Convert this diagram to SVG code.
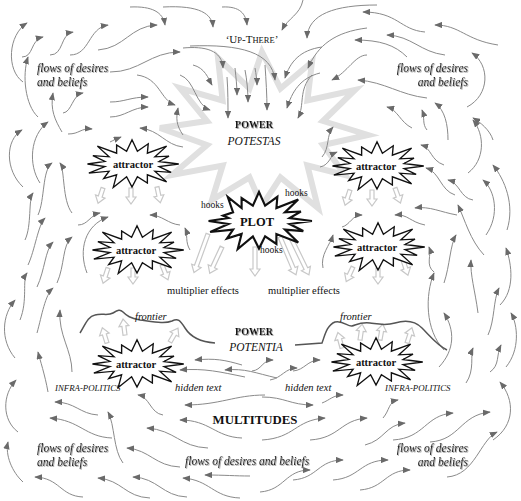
<svg xmlns="http://www.w3.org/2000/svg" width="521" height="501" viewBox="0 0 521 501">
<style>
.f{fill:none;stroke:#8a8a8a;stroke-width:1;marker-end:url(#ah)}
.burst{fill:#fff;stroke:#111;stroke-width:1.3;stroke-linejoin:miter}
.ha{fill:#fff;stroke:#c8c8c8;stroke-width:1.2}
.t{font-family:"Liberation Serif","Times New Roman",serif;fill:#111}
.it{font-style:italic}
.b{font-weight:bold}
.flow{font-family:"Liberation Serif","Times New Roman",serif;font-style:italic;font-size:11.5px;fill:#222;filter:url(#sh)}
.front{fill:none;stroke:#555;stroke-width:1.5}
</style>
<defs>
<marker id="ah" viewBox="0 0 10 8" refX="9" refY="4" markerWidth="8" markerHeight="6.4" markerUnits="userSpaceOnUse" orient="auto"><path d="M0,0 L10,4 L0,8 Z" fill="#6a6a6a"/></marker>
<filter id="sh" x="-10%" y="-40%" width="120%" height="180%"><feDropShadow dx="0.8" dy="0.8" stdDeviation="0.7" flood-color="#888" flood-opacity="0.9"/></filter>
<path id="burst" d="M0,-24.2 L5.1,-12.8 L15.3,-20.2 L14.5,-10.8 L32.7,-17.9 L21.6,-7.2 L34.9,-7.9 L25.5,-2.5 L44.1,0 L25.5,2.5 L36.9,8.4 L21.6,7.2 L32.7,17.9 L14.5,10.8 L14.5,19.1 L5.1,12.8 L0,23 L-5.1,12.8 L-17.7,23.4 L-14.5,10.8 L-26.7,14.6 L-21.6,7.2 L-40.7,9.2 L-25.5,2.5 L-42,0 L-25.5,-2.5 L-36.9,-8.4 L-21.6,-7.2 L-32.7,-17.9 L-14.5,-10.8 L-14.5,-19.1 L-5.1,-12.8 Z"/>
<path id="hs" d="M-2,0 L2,0 L2,9 L5,9 L0,16 L-5,9 L-2,9 Z"/>
<path id="hm" d="M-2,0 L2,0 L2,22 L5,22 L0,29 L-5,22 L-2,22 Z"/>
<path id="hl" d="M-2,0 L2,0 L2,34 L5,34 L0,41 L-5,34 L-2,34 Z"/>
</defs>
<rect width="521" height="501" fill="#fff"/>

<g id="power-potestas">
<polygon points="262,52 280.5,88.6 312,62 307.4,100.5 355,90 323,121 368,135 323,145 345,175 307.4,165.5 318,208 280.5,177.4 262,206 249.5,177.4 212,200 222.6,165.5 172,175 207,145 160,128 207,121 180,88 222.6,100.5 218,58 249.5,88.6" fill="#fff" stroke="#e0e0e0" stroke-width="6" stroke-linejoin="miter"/>
<text class="t b" x="254" y="128" font-size="10" text-anchor="middle" filter="url(#sh)">POWER</text>
<text class="t it" x="254" y="145" font-size="11.5" text-anchor="middle">POTESTAS</text>
</g>

<g id="connectors">
<path class="f" d="M130,7 C152,6 163,12 165,25"/>
<path class="f" d="M163,7 C200,5 212,14 213,27"/>
<path class="f" d="M222,7 C240,6 246,14 247,25"/>
<path class="f" d="M303,0 C300,15 288,18 282,30"/>
<path class="f" d="M377,5 C335,5 308,14 307,38"/>
<path class="f" d="M425,32 C400,30 398,12 363,12"/>
<path class="f" d="M445,55 C420,52 412,36 387,35"/>
<path class="f" d="M498,45 C465,40 460,25 435,25"/>
<path class="f" d="M407,57 C395,45 380,40 355,40"/>
<path class="f" d="M367,28 C335,32 318,45 308,68"/>
<path class="f" d="M322,47 C300,50 290,62 285,78"/>
<path class="f" d="M367,55 C355,55 348,72 332,80"/>
<path class="f" d="M320,73 C300,78 292,92 287,108"/>
<path class="f" d="M312,75 C298,90 305,105 298,118"/>
<path class="f" d="M427,98 C400,95 385,82 358,80"/>
<path class="f" d="M412,128 C400,122 398,110 387,107"/>
<path class="f" d="M427,130 C422,124 425,118 422,110"/>
<path class="f" d="M448,140 C448,125 445,110 435,103"/>
<path class="f" d="M467,107 C490,95 490,65 472,53"/>
<path class="f" d="M493,140 C490,130 480,122 473,118"/>
<path class="f" d="M23,82 C6,70 8,35 27,23"/>
<path class="f" d="M22,57 C34,57 30,40 43,37"/>
<path class="f" d="M50,55 C64,55 60,34 73,32"/>
<path class="f" d="M70,55 C90,55 88,28 108,25"/>
<path class="f" d="M98,50 C125,48 130,26 157,25"/>
<path class="f" d="M110,72 C140,72 150,52 180,52"/>
<path class="f" d="M183,48 C205,46 222,50 223,68"/>
<path class="f" d="M190,46 C240,44 272,52 275,80"/>
<path class="f" d="M193,65 C205,68 208,78 212,85"/>
<path class="f" d="M180,75 C195,80 195,105 210,110"/>
<path class="f" d="M137,75 C160,78 160,100 175,105"/>
<path class="f" d="M110,102 C125,102 130,97 148,97"/>
<path class="f" d="M110,117 C125,117 132,107 148,107"/>
<path class="f" d="M63,113 C72,112 72,95 83,93"/>
<path class="f" d="M38,117 C25,105 22,75 28,57"/>
<path class="f" d="M62,132 C55,120 50,110 53,93"/>
<path class="f" d="M227,77 C228,90 228,105 228,118"/>
<path class="f" d="M235,68 C236,78 237,86 237,95"/>
<path class="f" d="M245,70 C247,80 248,92 248,102"/>
<path class="f" d="M255,68 C256,74 257,80 257,85"/>
<path class="f" d="M265,65 C266,80 267,95 267,110"/>
<path class="f" d="M183,135 C176,125 176,118 178,108"/>
<path class="f" d="M183,147 C165,145 160,130 140,128"/>
<path class="f" d="M322,157 C330,148 326,135 333,127"/>
<path class="f" d="M320,167 C330,165 330,155 337,152"/>
<path class="f" d="M23,187 C5,170 5,140 22,130"/>
<path class="f" d="M40,183 C28,165 30,135 48,122"/>
<path class="f" d="M38,215 C45,200 42,170 52,163"/>
<path class="f" d="M72,213 C62,200 65,170 60,163"/>
<path class="f" d="M25,240 C32,225 28,200 33,193"/>
<path class="f" d="M28,265 C35,250 38,225 45,218"/>
<path class="f" d="M37,287 C45,270 45,250 53,242"/>
<path class="f" d="M57,283 C65,265 62,245 72,237"/>
<path class="f" d="M78,225 C88,225 90,215 100,213"/>
<path class="f" d="M87,273 C78,250 85,225 108,217"/>
<path class="f" d="M68,134 C80,134 80,128 92,129"/>
<path class="f" d="M110,142 C114,140 116,139 121,137"/>
<path class="f" d="M15,358 C0,340 2,315 15,300"/>
<path class="f" d="M20,320 C28,300 22,280 27,273"/>
<path class="f" d="M37,333 C42,315 45,295 53,288"/>
<path class="f" d="M72,372 C72,350 58,335 60,310"/>
<path class="f" d="M48,392 C45,375 40,360 38,352"/>
<path class="f" d="M18,432 C2,420 2,395 16,380"/>
<path class="f" d="M23,482 C12,472 5,455 8,442"/>
<path class="f" d="M180,225 C168,224 162,215 150,215"/>
<path class="f" d="M190,250 C185,242 188,235 185,228"/>
<path class="f" d="M342,227 C350,225 352,215 362,215"/>
<path class="f" d="M425,225 C410,222 408,214 395,215"/>
<path class="f" d="M457,215 C440,212 430,206 415,208"/>
<path class="f" d="M444,165 C430,160 432,148 421,145"/>
<path class="f" d="M455,195 C440,190 440,172 426,168"/>
<path class="f" d="M473,200 C460,198 460,183 448,180"/>
<path class="f" d="M484,255 C470,240 465,220 458,205"/>
<path class="f" d="M468,173 C485,160 485,135 473,120"/>
<path class="f" d="M486,235 C500,215 495,190 483,180"/>
<path class="f" d="M507,230 C515,205 505,180 493,165"/>
<path class="f" d="M323,268 C320,255 330,245 333,235"/>
<path class="f" d="M434,272 C425,265 432,255 429,247"/>
<path class="f" d="M444,350 C425,330 425,295 434,273"/>
<path class="f" d="M444,283 C450,265 450,245 456,235"/>
<path class="f" d="M478,313 C475,290 470,275 471,260"/>
<path class="f" d="M500,305 C515,290 512,265 506,248"/>
<path class="f" d="M488,335 C495,320 493,300 499,288"/>
<path class="f" d="M439,367 C455,350 455,330 444,313"/>
<path class="f" d="M466,383 C475,370 470,355 473,348"/>
<path class="f" d="M490,372 C500,365 496,355 501,345"/>
<path class="f" d="M506,367 C520,350 518,325 511,313"/>
<path class="f" d="M493,440 C515,425 515,400 500,382"/>
<path class="f" d="M447,477 C475,475 480,440 497,432"/>
<path class="f" d="M430,442 C460,440 460,415 490,412"/>
<path class="f" d="M393,440 C425,438 425,415 453,413"/>
<path class="f" d="M365,445 C385,440 385,425 405,423"/>
<path class="f" d="M310,440 C340,438 340,420 367,418"/>
<path class="f" d="M262,440 C295,438 295,420 325,418"/>
<path class="f" d="M383,418 C390,410 388,402 398,400"/>
<path class="f" d="M322,403 C330,400 333,395 343,395"/>
<path class="f" d="M262,397 C285,397 290,405 313,405"/>
<path class="f" d="M293,480 C318,478 318,460 343,460"/>
<path class="f" d="M333,480 C360,478 360,460 388,460"/>
<path class="f" d="M360,490 C385,488 385,470 410,470"/>
<path class="f" d="M260,492 C285,490 285,470 310,470"/>
<path class="f" d="M293,371 C305,370 307,360 320,360"/>
<path class="f" d="M270,380 C282,378 285,368 297,368"/>
<path class="f" d="M252,371 C262,370 262,360 273,360"/>
<path class="f" d="M242,365 C225,360 215,358 195,360"/>
<path class="f" d="M245,377 C220,372 205,368 180,370"/>
<path class="f" d="M277,378 C255,373 245,368 225,370"/>
<path class="f" d="M265,395 C235,395 220,405 185,405"/>
<path class="f" d="M98,415 C80,414 75,402 55,402"/>
<path class="f" d="M112,438 C85,437 80,420 50,418"/>
<path class="f" d="M163,415 C150,413 150,397 138,395"/>
<path class="f" d="M123,463 C113,450 115,425 108,412"/>
<path class="f" d="M242,438 C215,437 210,420 180,420"/>
<path class="f" d="M208,448 C180,447 175,430 147,428"/>
<path class="f" d="M180,467 C155,466 150,450 127,448"/>
<path class="f" d="M83,497 C60,496 60,478 35,477"/>
<path class="f" d="M150,498 C125,497 122,480 98,478"/>
<path class="f" d="M187,497 C162,496 158,478 133,477"/>
<path class="f" d="M240,498 C213,497 210,480 183,478"/>
<path class="f" d="M250,476 C235,476 225,475 205,475"/>
</g>

<g id="effects">
<use href="#hs" class="ha" transform="translate(103,188) rotate(18)"/>
<use href="#hs" class="ha" transform="translate(131,188) rotate(0)"/>
<use href="#hs" class="ha" transform="translate(157,187) rotate(-12)"/>
<use href="#hs" class="ha" transform="translate(108,268) rotate(18)"/>
<use href="#hs" class="ha" transform="translate(133,268) rotate(0)"/>
<use href="#hs" class="ha" transform="translate(162,265) rotate(-22)"/>
<use href="#hs" class="ha" transform="translate(350,190) rotate(18)"/>
<use href="#hs" class="ha" transform="translate(372,190) rotate(0)"/>
<use href="#hs" class="ha" transform="translate(395,188) rotate(-20)"/>
<use href="#hs" class="ha" transform="translate(353,267) rotate(25)"/>
<use href="#hs" class="ha" transform="translate(378,268) rotate(0)"/>
<use href="#hs" class="ha" transform="translate(403,260) rotate(-18)"/>
<use href="#hl" class="ha" transform="translate(208,234) rotate(20)"/>
<use href="#hm" class="ha" transform="translate(222,247) rotate(25)"/>
<use href="#hm" class="ha" transform="translate(255,247) rotate(0)"/>
<use href="#hl" class="ha" transform="translate(280,237) rotate(-23)"/>
<use href="#hl" class="ha" transform="translate(291,238) rotate(-26)"/>
<use href="#hs" class="ha" transform="translate(107,343) rotate(163)"/>
<use href="#hs" class="ha" transform="translate(125,335) rotate(173)"/>
<use href="#hs" class="ha" transform="translate(170,342) rotate(-150)"/>
<use href="#hs" class="ha" transform="translate(342,348) rotate(165)"/>
<use href="#hs" class="ha" transform="translate(360,340) rotate(-172)"/>
<use href="#hs" class="ha" transform="translate(380,340) rotate(-170)"/>
<use href="#hs" class="ha" transform="translate(407,343) rotate(-162)"/>
</g>

<g id="frontier-left">
<path class="front" d="M80,333 C85,325 88,316 95,315 C102,313 108,316 113,313 C118,310 120,309 123,312 C127,316 130,318 140,320 C155,322 165,324 172,321 C178,318 180,320 185,328 C190,336 200,342 215,343"/>
<text class="t it" x="135" y="320" font-size="10.5">frontier</text>
</g>
<g id="frontier-right">
<path class="front" d="M295,345 L322,343 C325,335 327,325 335,322 C343,320 348,327 352,326 C356,325 360,322 370,323 C378,324 385,326 395,323 C405,320 415,321 422,328 C430,336 437,345 447,350"/>
<text class="t it" x="340" y="320" font-size="10.5">frontier</text>
</g>

<g id="attractor-1"><use href="#burst" class="burst" transform="translate(132,164) scale(1.06,1)"/><text class="t b" x="133" y="168" font-size="10.5" text-anchor="middle">attractor</text></g>
<g id="attractor-2"><use href="#burst" class="burst" transform="translate(137,250) scale(1.06,1)"/><text class="t b" x="136" y="254" font-size="10.5" text-anchor="middle">attractor</text></g>
<g id="attractor-3"><use href="#burst" class="burst" transform="translate(377,166) scale(1.06,1)"/><text class="t b" x="376" y="170" font-size="10.5" text-anchor="middle">attractor</text></g>
<g id="attractor-4"><use href="#burst" class="burst" transform="translate(378,247) scale(1.06,1)"/><text class="t b" x="377" y="251" font-size="10.5" text-anchor="middle">attractor</text></g>
<g id="attractor-5"><use href="#burst" class="burst" transform="translate(137,364) scale(1.06,1)"/><text class="t b" x="136" y="368" font-size="10.5" text-anchor="middle">attractor</text></g>
<g id="attractor-6"><use href="#burst" class="burst" transform="translate(376,362) scale(1.06,1)"/><text class="t b" x="376" y="366" font-size="10.5" text-anchor="middle">attractor</text></g>

<g id="plot">
<path class="burst" transform="translate(259,221) scale(1.2)" style="stroke-width:1.8" d="M0,-24.2 L5.1,-12.8 L15.3,-20.2 L14.5,-10.8 L32.7,-17.9 L21.6,-7.2 L34.9,-7.9 L25.5,-2.5 L44.1,0 L25.5,2.5 L36.9,8.4 L21.6,7.2 L32.7,17.9 L14.5,10.8 L14.5,19.1 L5.1,12.8 L0,23 L-5.1,12.8 L-17.7,23.4 L-14.5,10.8 L-26.7,14.6 L-21.6,7.2 L-40.7,9.2 L-25.5,2.5 L-42,0 L-25.5,-2.5 L-30,-4.5 L-21.6,-7.2 L-26,-20 L-14.5,-10.8 L-14.5,-19.1 L-5.1,-12.8 Z"/>
<text class="t b" x="257" y="226" font-size="12.5" text-anchor="middle">PLOT</text>
<text class="t" x="201" y="208" font-size="9.5">hooks</text>
<text class="t" x="285" y="196" font-size="9.5">hooks</text>
<text class="t" x="260" y="253" font-size="9.5">hooks</text>
</g>

<g id="labels">
<text class="t" x="252" y="43" font-size="11" text-anchor="middle">‘U<tspan font-size="8.5">P</tspan>-T<tspan font-size="8.5">HERE</tspan>’</text>
<text class="t" x="203" y="294" font-size="10.5" text-anchor="middle">multiplier effects</text>
<text class="t" x="304" y="294" font-size="10.5" text-anchor="middle">multiplier effects</text>
<text class="t b" x="254" y="335" font-size="10" text-anchor="middle" filter="url(#sh)">POWER</text>
<text class="t it" x="256" y="351" font-size="11.5" text-anchor="middle">POTENTIA</text>
<text class="t it" x="55" y="391" font-size="8.8">INFRA-POLITICS</text>
<text class="t it" x="385" y="391" font-size="8.8">INFRA-POLITICS</text>
<text class="t it" x="175" y="391" font-size="10.5">hidden text</text>
<text class="t it" x="285" y="391" font-size="10.5">hidden text</text>
<text class="t b" x="255" y="424" font-size="12.8" text-anchor="middle">MULTITUDES</text>
<text class="flow" x="37" y="72">flows of desires</text>
<text class="flow" x="37" y="86">and beliefs</text>
<text class="flow" x="468" y="72" text-anchor="end">flows of desires</text>
<text class="flow" x="468" y="86" text-anchor="end">and beliefs</text>
<text class="flow" x="37" y="452">flows of desires</text>
<text class="flow" x="37" y="466">and beliefs</text>
<text class="flow" x="468" y="452" text-anchor="end">flows of desires</text>
<text class="flow" x="468" y="466" text-anchor="end">and beliefs</text>
<text class="flow" x="185" y="465">flows of desires and beliefs</text>
</g>
</svg>
